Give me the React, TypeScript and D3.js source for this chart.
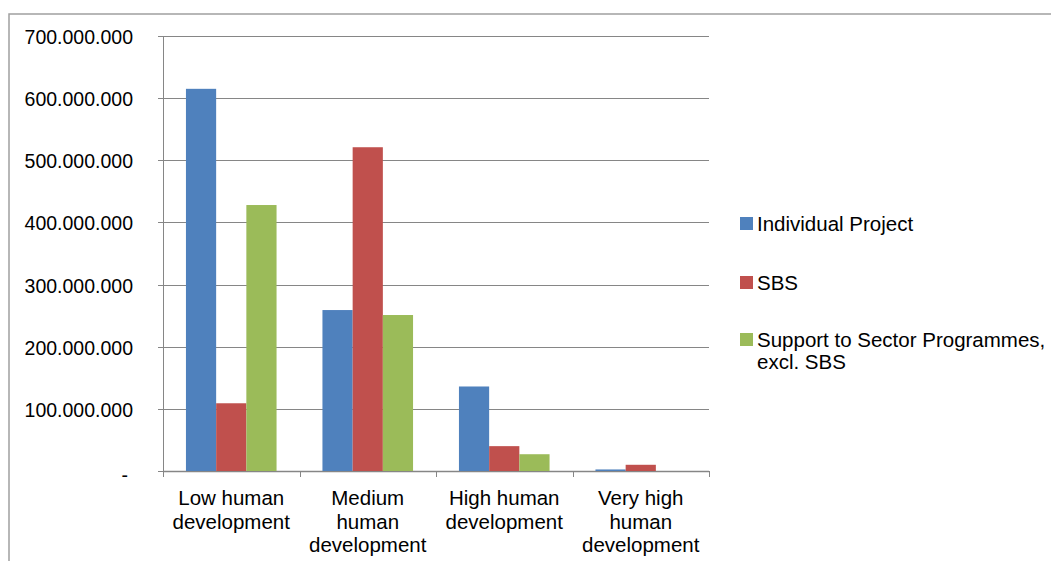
import React from "react";
import * as d3 from "d3";

const categories = [
  ["Low human", "development"],
  ["Medium", "human", "development"],
  ["High human", "development"],
  ["Very high", "human", "development"],
];
const seriesNames = ["Individual Project", "SBS", "Support to Sector Programmes,|excl. SBS"];
const colors = ["#4F81BD", "#C0504D", "#9BBB59"];
const individualProject = [615000000, 259000000, 136000000, 2500000];
const sbs = [109000000, 521000000, 40000000, 10000000];
const sectorProgrammes = [428000000, 251000000, 27000000, 0];
const yTicks = [0, 100000000, 200000000, 300000000, 400000000, 500000000, 600000000, 700000000];

const series = [individualProject, sbs, sectorProgrammes];

function fmt(v: number) {
  if (v === 0) return "-";
  return d3.format(",")(v).replace(/,/g, ".");
}

export default function App() {
  const W = 1051, H = 561;
  const left = 163, right = 709, top = 36, bottom = 471;
  const y = d3.scaleLinear().domain([0, 700000000]).range([bottom, top]);
  const x0 = d3.scaleBand<number>().domain(d3.range(categories.length)).range([left, right]).paddingInner(0).paddingOuter(0);
  const bw = x0.bandwidth();
  const barW = 30.2;
  const gap = (bw - barW * 3) / 2;
  const font = "'Liberation Sans', Arial, sans-serif";
  const axisColor = "#868686";
  return (
    <svg width={W} height={H} style={{ position: "absolute", left: 0, top: 0 }} fontFamily={font}>
      <rect x={0} y={0} width={W} height={H} fill="#fff" />
      <rect x={9} y={14} width={W + 10} height={H} fill="none" stroke="#a0a0a0" strokeWidth={1.5} />
      {yTicks.map((t) => (
        <g key={t}>
          <line x1={158} x2={right} y1={Math.round(y(t)) + 0.5} y2={Math.round(y(t)) + 0.5} stroke={axisColor} strokeWidth={1} />
          {t === 0 ? (
            <text x={128} y={y(t) + 11} textAnchor="end" fontSize={19.5} fill="#000">-</text>
          ) : (
            <text x={133} y={y(t) + 8} textAnchor="end" fontSize={19.5} fill="#000">{fmt(t)}</text>
          )}
        </g>
      ))}
      <line x1={left + 0.5} x2={left + 0.5} y1={top} y2={bottom + 5} stroke={axisColor} strokeWidth={1} />
      <line x1={left} x2={right} y1={bottom + 0.5} y2={bottom + 0.5} stroke={axisColor} strokeWidth={1.5} />
      {d3.range(categories.length + 1).map((i) => {
        const xx = Math.round(left + i * bw) + 0.5;
        return <line key={i} x1={xx} x2={xx} y1={bottom} y2={bottom + 6} stroke={axisColor} strokeWidth={1} />;
      })}
      {series.map((vals, si) =>
        vals.map((v, ci) => {
          const bx = (x0(ci) as number) + gap + si * barW;
          return <rect key={si + "-" + ci} x={bx} y={y(v)} width={barW} height={bottom - y(v)} fill={colors[si]} />;
        })
      )}
      {categories.map((lines, ci) => (
        <text key={ci} textAnchor="middle" fontSize={20.5} fill="#000">
          {lines.map((l, li) => (
            <tspan key={li} x={(x0(ci) as number) + bw / 2} y={505 + li * 23.5}>{l}</tspan>
          ))}
        </text>
      ))}
      {seriesNames.map((name, si) => {
        const ly = [223, 282, 339][si];
        const parts = name.split("|");
        return (
          <g key={si}>
            <rect x={740} y={ly - 6} width={13} height={13} fill={colors[si]} />
            <text fontSize={20.5} fill="#000">
              {parts.map((p, pi) => (
                <tspan key={pi} x={757} y={ly + 7.5 + pi * 22}>{p}</tspan>
              ))}
            </text>
          </g>
        );
      })}
    </svg>
  );
}
